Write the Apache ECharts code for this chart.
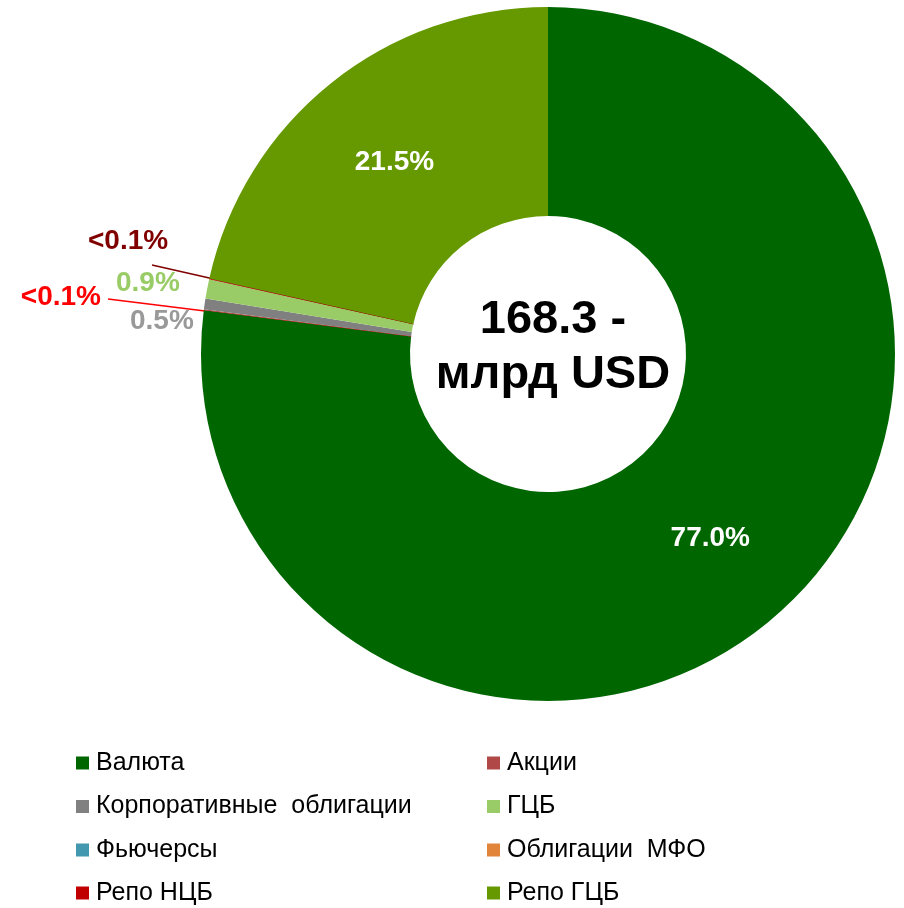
<!DOCTYPE html>
<html>
<head>
<meta charset="utf-8">
<script src="https://cdn.jsdelivr.net/npm/echarts@6/dist/echarts.min.js"></script>
<style>
html,body{margin:0;padding:0;background:#fff;}
#chart{width:904px;height:908px;}
</style>
</head>
<body>
<div id="chart"></div>
<script>
// ---- data ----
const categories = ['Валюта', 'Акции', 'Корпоративные  облигации', 'ГЦБ', 'Фьючерсы', 'Облигации  МФО', 'Репо НЦБ', 'Репо ГЦБ'];
const shares = [77.0, 0.04, 0.5, 0.9, 0, 0, 0.04, 21.5]; // percent of total
const sliceColors = ['#006600', '#B04848', '#808080', '#99CC66', '#4198AF', '#E0853A', '#C00000', '#669900'];
const labelColors = ['#FFFFFF', '#FF0000', '#999999', '#99CC66', '#000000', '#000000', '#800000', '#FFFFFF'];
const centerText = ['168.3 -', 'млрд USD'];

const FONT = '"Liberation Sans", Arial, sans-serif';

function labelText(v) {
  return v < 0.1 ? '<0.1%' : v.toFixed(1) + '%';
}

const outsideIdx = [1, 2, 3, 6];
const lineIdx = [1, 6];

const pieData = categories.map((name, i) => {
  const v = shares[i];
  const outside = outsideIdx.includes(i);
  return {
    name: name,
    value: v,
    itemStyle: { color: sliceColors[i] },
    label: {
      show: v > 0,
      position: outside ? 'outside' : 'inside',
      color: labelColors[i],
      formatter: labelText(v)
    },
    labelLine: { show: lineIdx.includes(i), lineStyle: { color: labelColors[i], width: 1.6 } }
  };
});

// label placement (style/layout only)
const labelPlace = {
  1: { x: 101, y: 297, align: 'right', line: [108, 299] },
  2: { x: 130, y: 321, align: 'left' },
  3: { x: 116, y: 283, align: 'left' },
  6: { x: 88, y: 241, align: 'left', line: [152, 265] }
};

// legend grid: 2 columns, 4 rows (layout only)
const legendCols = [76, 487];
const legendRows = [763, 806.5, 850, 893];
const legends = categories.map((name, i) => ({
  orient: 'horizontal',
  left: legendCols[i % 2],
  top: legendRows[Math.floor(i / 2)] - 12.5,
  padding: 0,
  itemWidth: 13, itemHeight: 13, icon: 'rect',
  selectedMode: false,
  data: [name],
  textStyle: { fontFamily: FONT, fontSize: 25, color: '#000', lineHeight: 25, padding: [0, 0, 0, 2] }
}));

const chart = echarts.init(document.getElementById('chart'), null, { renderer: 'canvas' });
chart.setOption({
  animation: false,
  backgroundColor: '#fff',
  legend: legends,
  graphic: [{
    type: 'text',
    x: 553, y: 348,
    style: {
      text: centerText.join('\n'),
      font: 'bold 47px ' + FONT,
      fill: '#000',
      align: 'center',
      verticalAlign: 'middle',
      lineHeight: 55
    }
  }],
  series: [{
    type: 'pie',
    center: [548, 354],
    radius: [138, 347],
    startAngle: 90,
    clockwise: true,
    avoidLabelOverlap: false,
    label: { fontFamily: FONT, fontWeight: 'bold', fontSize: 28 },
    labelLine: { length: 20, length2: 20 },
    labelLayout: function (p) {
      const pl = labelPlace[p.dataIndex];
      if (!pl) return {};
      const out = { x: pl.x, y: pl.y, align: pl.align, verticalAlign: 'middle', hideOverlap: false, moveOverlap: null };
      if (pl.line) {
        const ex = p.rect.x + p.rect.width;
        const ey = p.rect.y + p.rect.height;
        out.labelLinePoints = [[ex, ey], [pl.line[0], pl.line[1]], [pl.line[0], pl.line[1]]];
      }
      return out;
    },
    emphasis: { disabled: true },
    data: pieData
  }]
});
</script>
</body>
</html>
